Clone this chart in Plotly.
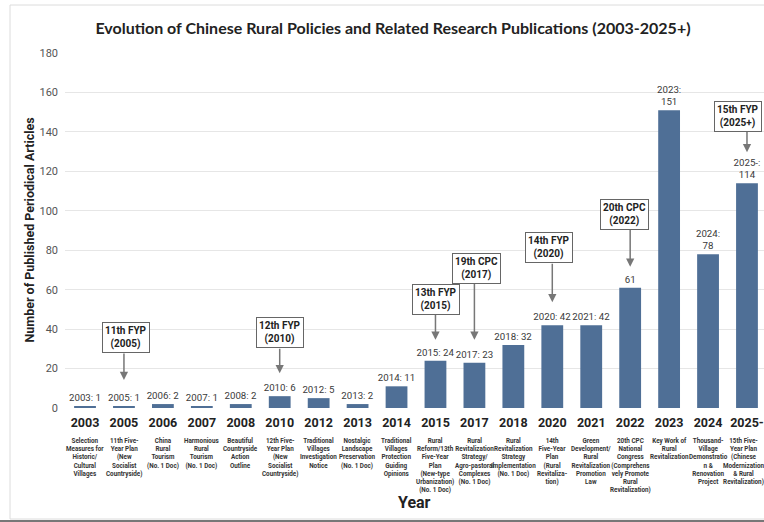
import plotly.graph_objects as go

# ---- data -------------------------------------------------------------
years = ["2003", "2005", "2006", "2007", "2008", "2010", "2012", "2013", "2014",
         "2015", "2017", "2018", "2020", "2021", "2022", "2023", "2024", "2025-"]
articles = [1, 1, 2, 1, 2, 6, 5, 2, 11, 24, 23, 32, 42, 42, 61, 151, 78, 114]
policies = [
    "Selection<br>Measures for<br>Historic/<br>Cultural<br>Villages",
    "11th Five-<br>Year Plan<br>(New<br>Socialist<br>Countryside)",
    "China<br>Rural<br>Tourism<br>(No. 1 Doc)",
    "Harmonious<br>Rural<br>Tourism<br>(No. 1 Doc)",
    "Beautiful<br>Countryside<br>Action<br>Outline",
    "12th Five-<br>Year Plan<br>(New<br>Socialist<br>Countryside)",
    "Traditional<br>Villages<br>Investigation<br>Notice",
    "Nostalgic<br>Landscape<br>Preservation<br>(No. 1 Doc)",
    "Traditional<br>Villages<br>Protection<br>Guiding<br>Opinions",
    "Rural<br>Reform/13th<br>Five-Year<br>Plan<br>(New-type<br>Urbanization)<br>(No. 1 Doc)",
    "Rural<br>Revitalization<br>Strategy/<br>Agro-pastoral<br>Complexes<br>(No. 1 Doc)",
    "Rural<br>Revitalization<br>Strategy<br>Implementation<br>(No. 1 Doc)",
    "14th<br>Five-Year<br>Plan<br>(Rural<br>Revitaliza-<br>tion)",
    "Green<br>Development/<br>Rural<br>Revitalization<br>Promotion<br>Law",
    "20th CPC<br>National<br>Congress<br>(Comprehens<br>vely Promote<br>Rural<br>Revitalization)",
    "Key Work of<br>Rural<br>Revitalization",
    "Thousand-<br>Village<br>Demonstratio<br>n &<br>Renovation<br>Project",
    "15th Five-<br>Year Plan<br>(Chinese<br>Modernization<br>& Rural<br>Revitalization)",
]
# milestone call-outs: (year, line 1, line 2)
milestones = [
    ("2005", "11th FYP", "(2005)"),
    ("2010", "12th FYP", "(2010)"),
    ("2015", "13th FYP", "(2015)"),
    ("2017", "19th CPC", "(2017)"),
    ("2020", "14th FYP", "(2020)"),
    ("2022", "20th CPC", "(2022)"),
    ("2025-", "15th FYP", "(2025+)"),
]
wrapped_labels = {"2023", "2024", "2025-"}
value_only_labels = {"2022"}

# ---- layout geometry (pixels) ------------------------------------------
W, H = 764, 522
L, R, T, B = 65, 0, 53, 114
PW, PH = W - L - R, H - T - B
FONT = "Roboto, Arial, sans-serif"
BAR = "#4f6f96"

# call-out placement relative to the bar top: box centre, arrow tail, arrow tip, x shift
callout_px = {
    "2005": (69, 54, 26, 2),
    "2010": (64, 49, 23, 0),
    "2015": (61, 48, 21, 1),
    "2017": (94, 81, 23, 2),
    "2020": (78, 63, 23, -3),
    "2022": (73, 61, 21, -6),
    "2025-": (67, 53, 31, -9),
}
# nudge for the right-most description so it stays inside the page
desc_xshift = {"2025-": -3}


def px_x(px):
    return (px - L) / PW


def px_y(py):
    return (H - B - py) / PH


labels = []
for y, v in zip(years, articles):
    if y in value_only_labels:
        labels.append(f"{v}")
    elif y in wrapped_labels:
        labels.append(f"{y}:<br>{v}")
    else:
        labels.append(f"{y}: {v}")

fig = go.Figure(go.Bar(
    x=years, y=articles,
    marker=dict(color=BAR, line=dict(width=0)),
    text=labels, textposition="outside", constraintext="none",
    textfont=dict(family=FONT, size=9.7, color="#3a3a3a"),
    cliponaxis=False, hoverinfo="x+y",
))

annotations = []
# policy descriptions under each year (category index positions)
for i, (y, p) in enumerate(zip(years, policies)):
    annotations.append(dict(
        x=i, xref="x", y=0, yref="paper", yanchor="top", yshift=-27,
        xshift=desc_xshift.get(y, 0),
        text=f"<b>{p}</b>", showarrow=False, align="center",
        font=dict(family=FONT, size=6.3, color="#333"),
    ))

index_of = {y: i for i, y in enumerate(years)}
value_of = dict(zip(years, articles))
for y, l1, l2 in milestones:
    box, tail, tip, xs = callout_px[y]
    i, v = index_of[y], value_of[y]
    annotations.append(dict(
        x=i, y=v, xref="x", yref="y", text="", showarrow=True,
        ax=0, ay=-tail, standoff=tip, arrowhead=2, arrowsize=1.1,
        arrowwidth=1.5, arrowcolor="#777",
    ))
    annotations.append(dict(
        x=i, y=v, xref="x", yref="y", yshift=box, xshift=xs, yanchor="middle",
        text=f"<b>{l1}</b><br><b>{l2}</b>", showarrow=False,
        font=dict(family=FONT, size=10, color="#222"),
        bgcolor="white", bordercolor="#666", borderwidth=1, borderpad=2,
    ))

# axis titles
annotations.append(dict(
    x=0.5, xref="paper", y=px_y(502), yref="paper", yanchor="middle",
    text="<b>Year</b>", showarrow=False,
    font=dict(family=FONT, size=16, color="#222"),
))
annotations.append(dict(
    x=px_x(29), xref="paper", y=0.5, yref="paper", xanchor="center", yanchor="middle",
    text="<b>Number of Published Periodical Articles</b>", textangle=-90, showarrow=False,
    font=dict(family=FONT, size=12.5, color="#222"),
))

shapes = [
    dict(type="rect", xref="paper", yref="paper",
         x0=px_x(10), x1=px_x(790), y0=px_y(519), y1=px_y(5),
         line=dict(color="#dcdcdc", width=1), layer="below"),
    dict(type="line", xref="paper", yref="paper",
         x0=px_x(0), x1=px_x(764), y0=px_y(521), y1=px_y(521),
         line=dict(color="#777", width=2)),
]

fig.update_layout(
    width=W, height=H,
    margin=dict(l=L, r=R, t=T, b=B, pad=0),
    paper_bgcolor="white", plot_bgcolor="white",
    bargap=0.44,
    showlegend=False,
    title=dict(
        text="<b>Evolution of Chinese Rural Policies and Related Research Publications (2003-2025+)</b>",
        x=393 / W, xref="container", xanchor="center",
        y=1 - 28 / H, yref="container", yanchor="middle",
        font=dict(family="Lato, Open Sans, sans-serif", size=16, color="#222"),
    ),
    xaxis=dict(
        type="category", range=[-0.514, 17.437],
        tickfont=dict(family=FONT, size=12.5, color="#222"),
        tickvals=years, ticktext=[f"<b>{y}</b>" for y in years],
        showgrid=False, showline=False, ticks="", zeroline=False,
        ticklabelstandoff=5,
    ),
    yaxis=dict(
        range=[0, 180], dtick=20,
        tickfont=dict(family=FONT, size=11, color="#555"),
        gridcolor="#e6e6e6", gridwidth=1, zeroline=False, showline=False,
        ticks="", ticklabelstandoff=6,
    ),
    annotations=annotations,
    shapes=shapes,
)

fig.write_html("out.html")
